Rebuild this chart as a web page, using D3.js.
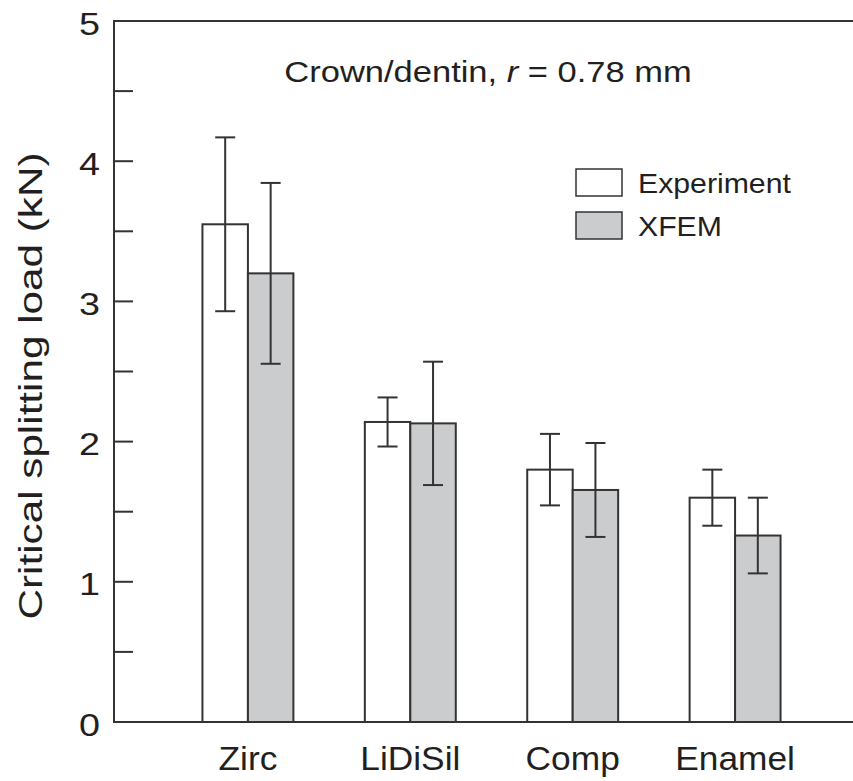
<!DOCTYPE html>
<html>
<head>
<meta charset="utf-8">
<script src="https://cdn.jsdelivr.net/npm/d3@7"></script>
<style>
  body { margin: 0; background: #fff; }
  text { font-family: "Liberation Sans", Arial, Helvetica, sans-serif; fill: #231f20; }
</style>
</head>
<body>
<div id="chart"></div>
<script>
const categories = ["Zirc", "LiDiSil", "Comp", "Enamel"];
const seriesNames = ["Experiment", "XFEM"];
const experiment = [3.55, 2.14, 1.80, 1.60];
const experimentErr = [0.62, 0.175, 0.255, 0.20];
const xfem = [3.20, 2.13, 1.655, 1.33];
const xfemErr = [0.645, 0.44, 0.335, 0.27];
const majorTicks = [0, 1, 2, 3, 4, 5];
const minorTicks = [0.5, 1.5, 2.5, 3.5, 4.5];

function drawChart() {
    const width = 853, height = 781;
    const plotLeft = 114, plotTop = 21, plotBottom = 722, plotRight = 853;
    const ink = "#333";

    const svg = d3.select("#chart").append("svg")
        .attr("width", width)
        .attr("height", height);

    const y = d3.scaleLinear().domain([0, 5]).range([plotBottom, plotTop]);
    const x0 = d3.scaleBand().domain(categories).range([131, 852]).padding(0.44);
    const x1 = d3.scaleBand().domain(seriesNames).range([0, x0.bandwidth()]);
    const fill = d3.scaleOrdinal().domain(seriesNames).range(["#ffffff", "#cbcccd"]);

    const rows = categories.map((c, i) => ({
        cat: c,
        vals: [
            {s: "Experiment", v: experiment[i], e: experimentErr[i]},
            {s: "XFEM", v: xfem[i], e: xfemErr[i]}
        ]
    }));

    // bars
    const groups = svg.selectAll("g.cat")
        .data(rows)
        .enter().append("g")
          .attr("class", "cat")
          .attr("transform", d => `translate(${x0(d.cat)},0)`);

    groups.selectAll("rect")
        .data(d => d.vals)
        .enter().append("rect")
          .attr("x", d => x1(d.s))
          .attr("y", d => y(d.v))
          .attr("width", x1.bandwidth())
          .attr("height", d => y(0) - y(d.v))
          .attr("fill", d => fill(d.s))
          .attr("stroke", ink)
          .attr("stroke-width", 2);

    // error bars
    const err = groups.selectAll("g.err")
        .data(d => d.vals)
        .enter().append("g")
          .attr("class", "err")
          .attr("transform", d => `translate(${x1(d.s) + x1.bandwidth() / 2},0)`);

    err.append("line")
        .attr("y1", d => y(d.v + d.e))
        .attr("y2", d => y(d.v - d.e))
        .attr("stroke", ink).attr("stroke-width", 2);
    err.append("line")
        .attr("x1", -10).attr("x2", 10)
        .attr("y1", d => y(d.v + d.e)).attr("y2", d => y(d.v + d.e))
        .attr("stroke", ink).attr("stroke-width", 2);
    err.append("line")
        .attr("x1", -10).attr("x2", 10)
        .attr("y1", d => y(d.v - d.e)).attr("y2", d => y(d.v - d.e))
        .attr("stroke", ink).attr("stroke-width", 2);

    // frame: left, top, bottom
    svg.append("path")
        .attr("d", `M${plotRight},${plotTop} H${plotLeft} V${plotBottom} H${plotRight}`)
        .attr("fill", "none")
        .attr("stroke", ink)
        .attr("stroke-width", 2);

    // y ticks (inward)
    svg.selectAll("line.tick")
        .data(majorTicks.concat(minorTicks))
        .enter().append("line")
          .attr("class", "tick")
          .attr("x1", plotLeft).attr("x2", plotLeft + 19)
          .attr("y1", d => y(d)).attr("y2", d => y(d))
          .attr("stroke", ink).attr("stroke-width", 2);

    // the original lettering is a bit wider than Liberation Sans, so stretch it
    svg.selectAll("text.ylab")
        .data(majorTicks)
        .enter().append("text")
          .attr("class", "ylab")
          .attr("transform", d => `translate(100,${y(d) + 2}) scale(1.18,1)`)
          .attr("dy", "0.36em")
          .attr("text-anchor", "end")
          .style("font-size", "32px")
          .text(d => d);

    // category labels
    svg.selectAll("text.xlab")
        .data(categories)
        .enter().append("text")
          .attr("class", "xlab")
          .attr("transform", d => `translate(${x0(d) + x0.bandwidth() / 2},770) scale(1.07,1)`)
          .attr("text-anchor", "middle")
          .style("font-size", "33px")
          .text(d => d);

    // y axis title
    svg.append("text")
        .attr("transform", "translate(42,386) rotate(-90) scale(1.28,1)")
        .attr("text-anchor", "middle")
        .style("font-size", "33px")
        .text("Critical splitting load (kN)");

    // panel title
    const title = svg.append("text")
        .attr("transform", "translate(488,82) scale(1.15,1)")
        .attr("text-anchor", "middle")
        .style("font-size", "30px");
    title.append("tspan").text("Crown/dentin, ");
    title.append("tspan").style("font-style", "italic").text("r");
    title.append("tspan").text(" = 0.78 mm");

    // legend
    const legend = svg.selectAll("g.legend")
        .data(seriesNames)
        .enter().append("g")
          .attr("class", "legend")
          .attr("transform", (d, i) => `translate(576,${169 + i * 43})`);
    legend.append("rect")
        .attr("width", 46).attr("height", 27)
        .attr("fill", d => fill(d))
        .attr("stroke", ink).attr("stroke-width", 1.5);
    legend.append("text")
        .attr("transform", "translate(62,24) scale(1.08,1)")
        .style("font-size", "28px")
        .text(d => d);
}
drawChart();
</script>
</body>
</html>
